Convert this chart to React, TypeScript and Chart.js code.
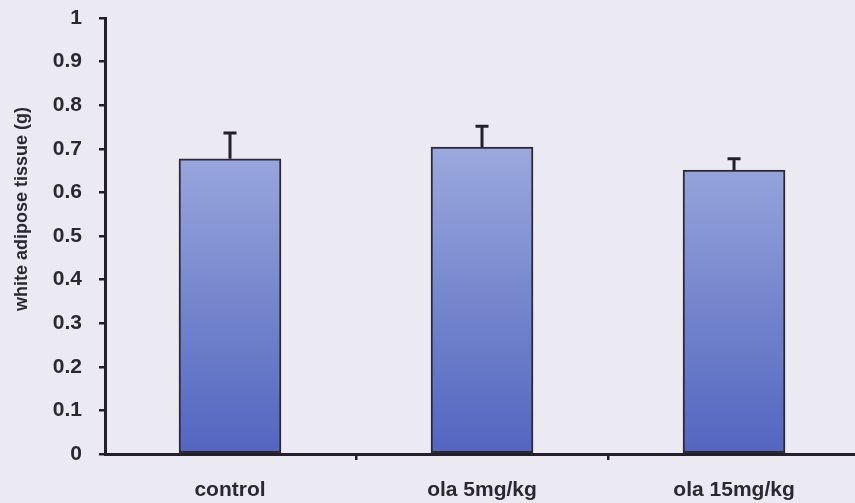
import React, { useEffect, useRef } from "react";
import { Chart, registerables } from "chart.js";

Chart.register(...registerables);

const categories = ["control", "ola 5mg/kg", "ola 15mg/kg"];
const means = [0.677, 0.704, 0.651];
const errors = [0.059, 0.048, 0.026];
const yTicks = [0, 0.1, 0.2, 0.3, 0.4, 0.5, 0.6, 0.7, 0.8, 0.9, 1];
const yLabels = ["0", "0.1", "0.2", "0.3", "0.4", "0.5", "0.6", "0.7", "0.8", "0.9", "1"];
const xTickValues = [0, 0.5, 1, 1.5, 2];
const yTitle = "white adipose tissue (g)";

const FONT = "'Liberation Sans', Arial, sans-serif";
const DARK = "#241f2b";
const TEXT = "#2b2830";

const errorBarPlugin = {
  id: "errorBars",
  afterDatasetsDraw(chart: any) {
    const { ctx, scales } = chart;
    const xs = scales.x;
    const ys = scales.y;
    ctx.save();
    ctx.strokeStyle = DARK;
    ctx.lineWidth = 3;
    means.forEach((m, i) => {
      const x = xs.getPixelForValue(i);
      const y0 = ys.getPixelForValue(m);
      const y1 = ys.getPixelForValue(m + errors[i]);
      ctx.beginPath();
      ctx.moveTo(x, y0);
      ctx.lineTo(x, y1);
      ctx.moveTo(x - 6.5, y1);
      ctx.lineTo(x + 6.5, y1);
      ctx.stroke();
    });
    ctx.restore();
  },
};

const yTitlePlugin = {
  id: "yTitle",
  afterDraw(chart: any) {
    const { ctx, chartArea } = chart;
    ctx.save();
    ctx.translate(22, chartArea.top + 191);
    ctx.rotate(-Math.PI / 2);
    ctx.fillStyle = TEXT;
    ctx.font = `bold 18px ${FONT}`;
    ctx.textAlign = "center";
    ctx.textBaseline = "middle";
    ctx.fillText(yTitle, 0, 0);
    ctx.restore();
  },
};

export default function App() {
  const ref = useRef<HTMLCanvasElement | null>(null);

  useEffect(() => {
    if (!ref.current) return;
    const chart = new Chart(ref.current, {
      type: "bar",
      data: {
        datasets: [
          {
            data: means.map((v, i) => ({ x: i, y: v })),
            barThickness: 102,
            borderColor: "#2e2a33",
            borderWidth: 2,
            borderSkipped: false,
            backgroundColor: (c: any) => {
              const chartObj = c.chart;
              const area = chartObj.chartArea;
              if (!area) return "#7080cc";
              const ys = chartObj.scales.y;
              const g = chartObj.ctx.createLinearGradient(0, ys.getPixelForValue(0.7), 0, ys.getPixelForValue(0));
              g.addColorStop(0, "#9ba8dd");
              g.addColorStop(0.5, "#7586cd");
              g.addColorStop(1, "#5365c0");
              return g;
            },
          },
        ],
      },
      options: {
        animation: false,
        responsive: false,
        maintainAspectRatio: false,
        layout: { padding: { top: 18, right: 0, left: 0, bottom: 0 } },
        plugins: { legend: { display: false }, tooltip: { enabled: false } },
        scales: {
          x: {
            type: "linear",
            offset: false,
            min: -0.496,
            max: 2.48,
            afterBuildTicks: (s: any) => {
              s.ticks = xTickValues.map((v) => ({ value: v }));
            },
            afterFit: (s: any) => {
              s.height = 49;
              s.paddingLeft = 0;
              s.paddingRight = 0;
            },
            ticks: {
              autoSkip: false,
              maxRotation: 0,
              padding: 18,
              color: TEXT,
              font: { family: FONT, size: 21, weight: "bold" },
              callback: (v: any) => (Number.isInteger(v) ? categories[v] : ""),
            },
            grid: {
              offset: false,
              drawOnChartArea: false,
              drawTicks: true,
              tickLength: 6,
              lineWidth: 2.5,
              tickColor: (c: any) => (c.tick && Number.isInteger(c.tick.value) ? "rgba(0,0,0,0)" : DARK),
            },
            border: { display: true, color: DARK, width: 3 },
          },
          y: {
            min: 0,
            max: 1,
            afterBuildTicks: (s: any) => {
              s.ticks = yTicks.map((v) => ({ value: v }));
            },
            afterFit: (s: any) => {
              s.width = 105;
              s.paddingTop = 0;
              s.paddingBottom = 0;
            },
            ticks: {
              padding: 17,
              color: TEXT,
              font: { family: FONT, size: 21, weight: "bold" },
              callback: (_v: any, i: number) => yLabels[i],
            },
            grid: {
              drawOnChartArea: false,
              drawTicks: true,
              tickLength: 6,
              lineWidth: 2.5,
              tickColor: DARK,
            },
            border: { display: true, color: DARK, width: 3 },
          },
        },
      },
      plugins: [errorBarPlugin, yTitlePlugin],
    } as any);
    return () => chart.destroy();
  }, []);

  return (
    <div
      style={{
        position: "fixed",
        left: 0,
        top: 0,
        width: 855,
        height: 503,
        background: "#ebeaf3",
      }}
    >
      <canvas ref={ref} width={855} height={503} style={{ display: "block", width: 855, height: 503 }} />
    </div>
  );
}
